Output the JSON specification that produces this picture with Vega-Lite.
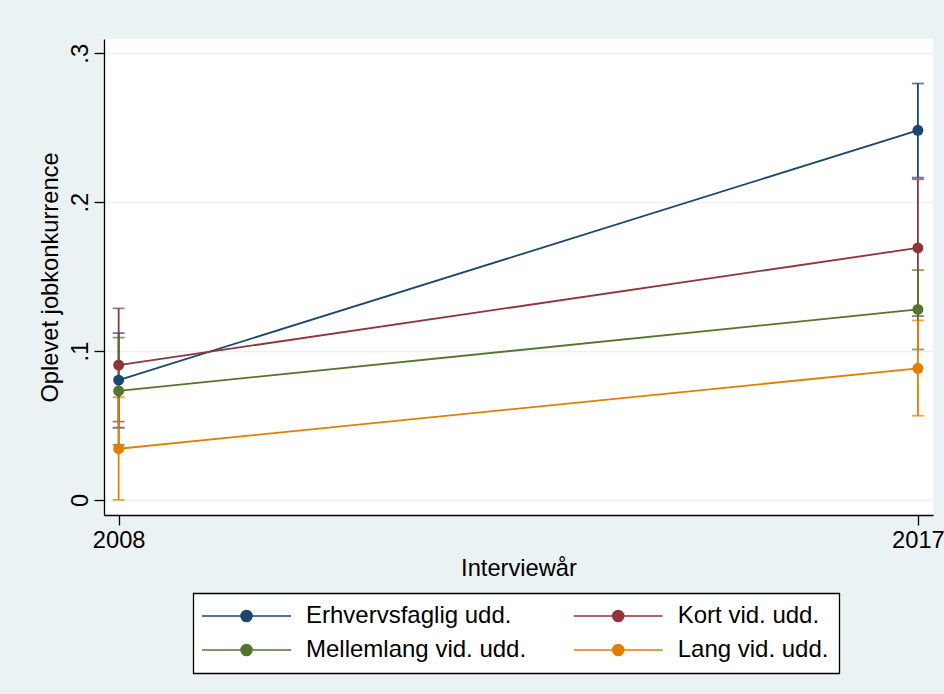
{
  "$schema": "https://vega.github.io/schema/vega-lite/v6.json",
  "width": 829,
  "height": 476,
  "autosize": {"type": "none"},
  "padding": {"left": 104, "top": 39, "right": 11, "bottom": 179},
  "background": "#eaf2f3",
  "config": {
    "view": {"fill": "white", "stroke": null},
    "font": "Liberation Sans",
    "axis": {
      "labelFont": "Liberation Sans",
      "titleFont": "Liberation Sans",
      "labelColor": "black",
      "titleColor": "black",
      "domainColor": "black",
      "tickColor": "black",
      "domainWidth": 1.3,
      "tickWidth": 1.3,
      "labelFontSize": 23.7,
      "titleFontSize": 23.7,
      "titleFontWeight": "normal"
    }
  },
  "data": {
    "values": [
      {"grp": "Erhvervsfaglig udd.", "year": 2008, "est": 0.0805, "lo": 0.0485, "hi": 0.112},
      {"grp": "Erhvervsfaglig udd.", "year": 2017, "est": 0.2483, "lo": 0.2165, "hi": 0.2797},
      {"grp": "Kort vid. udd.", "year": 2008, "est": 0.0906, "lo": 0.0526, "hi": 0.1287},
      {"grp": "Kort vid. udd.", "year": 2017, "est": 0.1693, "lo": 0.1235, "hi": 0.2154},
      {"grp": "Mellemlang vid. udd.", "year": 2008, "est": 0.0732, "lo": 0.037, "hi": 0.109},
      {"grp": "Mellemlang vid. udd.", "year": 2017, "est": 0.128, "lo": 0.1011, "hi": 0.1544},
      {"grp": "Lang vid. udd.", "year": 2008, "est": 0.0344, "lo": 0.0, "hi": 0.069},
      {"grp": "Lang vid. udd.", "year": 2017, "est": 0.0884, "lo": 0.0566, "hi": 0.1206}
    ]
  },
  "encoding": {
    "x": {
      "field": "year",
      "type": "quantitative",
      "scale": {"domain": [2007.835, 2017.17], "nice": false, "zero": false},
      "axis": {
        "values": [2008, 2017],
        "format": "d",
        "title": "Interviewår",
        "grid": false,
        "tickSize": 10,
        "labelPadding": 3,
        "titlePadding": 5
      }
    },
    "color": {
      "field": "grp",
      "type": "nominal",
      "scale": {
        "domain": ["Erhvervsfaglig udd.", "Kort vid. udd.", "Mellemlang vid. udd.", "Lang vid. udd."],
        "range": ["#1a476f", "#90353b", "#55752f", "#e37e00"]
      },
      "legend": {
        "title": null,
        "orient": "none",
        "legendX": 89.3,
        "legendY": 554.3,
        "direction": "horizontal",
        "columns": 2,
        "symbolType": "M-2.33,0L12.5,0M4.17,0A0.92,0.92,0,1,1,6.01,0A0.92,0.92,0,1,1,4.17,0Z",
        "symbolSize": 144,
        "symbolStrokeWidth": 1.5,
        "labelFont": "Liberation Sans",
        "labelFontSize": 24,
        "labelColor": "black",
        "labelOffset": 78,
        "labelLimit": 500,
        "columnPadding": 43.7,
        "rowPadding": 10,
        "padding": 10.7,
        "strokeColor": "black",
        "fillColor": "white",
        "encode": {
          "legend": {
            "update": {
              "strokeWidth": {"value": 1.3}
            }
          },
          "symbols": {
            "update": {
              "fill": {"scale": "color", "field": "value"},
              "stroke": {"scale": "color", "field": "value"},
              "strokeWidth": {"value": 1.5},
              "opacity": {"value": 1},
              "fillOpacity": {"value": 1}
            }
          }
        }
      }
    }
  },
  "layer": [
    {
      "mark": {
        "type": "errorbar",
        "rule": {"strokeWidth": 1.8},
        "ticks": {"size": 12, "thickness": 1.8}
      },
      "encoding": {
        "y": {
          "field": "lo",
          "type": "quantitative",
          "scale": {"domain": [-0.0101, 0.3096], "nice": false, "zero": false},
          "axis": {
            "values": [0, 0.1, 0.2, 0.3],
            "labelExpr": "datum.value == 0 ? '0' : '.' + format(datum.value * 10, '.0f')",
            "labelAngle": -90,
            "labelAlign": "center",
            "labelBaseline": "bottom",
            "tickSize": 10,
            "labelPadding": 2,
            "grid": true,
            "gridColor": "#eaf2f3",
            "gridWidth": 1.5,
            "title": "Oplevet jobkonkurrence",
            "titlePadding": 6
          }
        },
        "y2": {"field": "hi"}
      }
    },
    {
      "mark": {"type": "line", "strokeWidth": 1.8},
      "encoding": {
        "y": {"field": "est", "type": "quantitative"}
      }
    },
    {
      "mark": {"type": "point", "filled": true, "size": 120, "opacity": 1},
      "encoding": {
        "y": {"field": "est", "type": "quantitative"}
      }
    }
  ]
}
